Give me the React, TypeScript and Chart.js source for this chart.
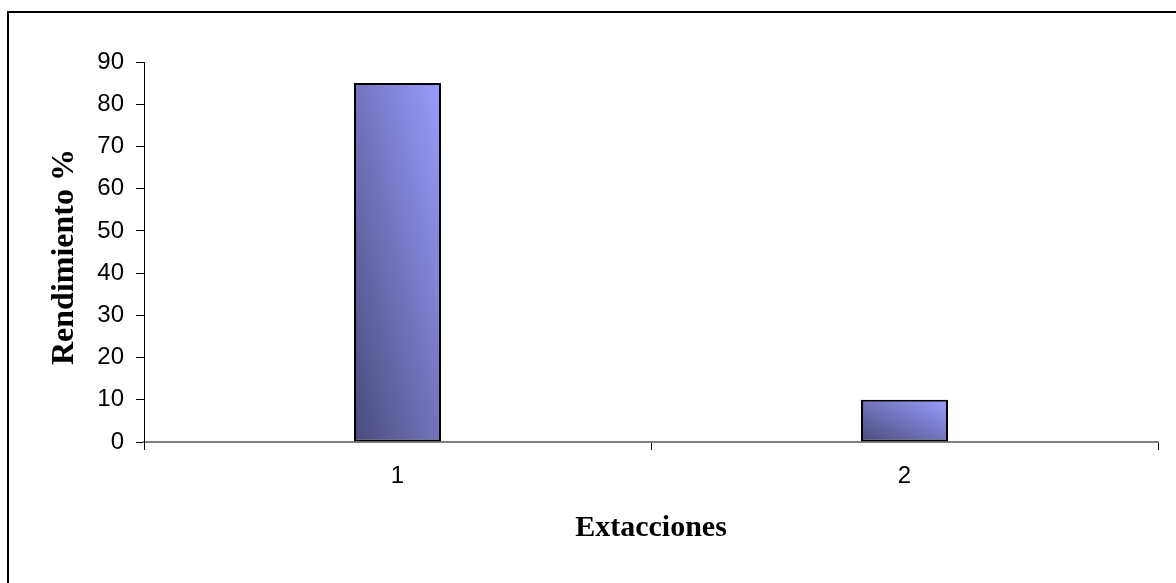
import React, { useEffect, useRef } from "react";
import { Chart, registerables } from "chart.js";

Chart.register(...registerables);

const categories: string[] = ["1", "2"];
const rendimiento: number[] = [85, 10];
const yTicksMin = 0;
const yTicksMax = 90;
const yTicksStep = 10;
const xTitle = "Extacciones";
const yTitle = "Rendimiento %";

const BAR_PCT = 0.1716;
const DARK = "#4a4a7c";
const LIGHT = "#9c9cff";

function barGradient(ctx: any) {
  const chart = ctx.chart;
  const xs = chart.scales?.x;
  const ys = chart.scales?.y;
  if (!xs || !ys || !chart.chartArea || ctx.raw === undefined) return LIGHT;
  const catW = xs.width / categories.length;
  const w = catW * BAR_PCT;
  const cx = xs.getPixelForValue(ctx.dataIndex);
  const left = cx - w / 2;
  const top = ys.getPixelForValue(ctx.raw);
  const bottom = ys.getPixelForValue(0);
  const h = Math.max(1, bottom - top);
  const k = (2 * w * h) / (w * w + h * h);
  const g = chart.ctx.createLinearGradient(left, bottom, left + h * k, bottom - w * k);
  g.addColorStop(0, DARK);
  g.addColorStop(1, LIGHT);
  return g;
}

const yTitlePlugin = {
  id: "yTitlePlugin",
  afterDraw(chart: any) {
    const c = chart.ctx;
    const area = chart.chartArea;
    c.save();
    c.translate(65, (area.top + area.bottom) / 2 + 5);
    c.rotate(-Math.PI / 2);
    c.font = "bold 32px 'Times New Roman', 'Liberation Serif'";
    c.fillStyle = "#000000";
    c.textAlign = "center";
    c.textBaseline = "middle";
    c.fillText(yTitle, 0, 0);
    c.restore();
  },
};

export default function App() {
  const ref = useRef<HTMLCanvasElement | null>(null);
  useEffect(() => {
    if (!ref.current) return;
    const chart = new Chart(ref.current, {
      type: "bar",
      data: {
        labels: categories,
        datasets: [
          {
            data: rendimiento,
            backgroundColor: barGradient as any,
            borderColor: "#000000",
            borderWidth: 2,
            borderSkipped: false,
            barPercentage: BAR_PCT,
            categoryPercentage: 1,
          },
        ],
      },
      options: {
        animation: false,
        responsive: false,
        maintainAspectRatio: false,
        layout: { padding: { top: 62, right: 18, left: 0, bottom: 0 } },
        plugins: { legend: { display: false }, tooltip: { enabled: false } },
        scales: {
          x: {
            type: "category",
            afterFit: (s: any) => {
              s.height = 141;
            },
            grid: {
              offset: true,
              drawOnChartArea: false,
              color: "#000000",
              tickLength: 8,
            },
            border: { color: "#808080", width: 2 },
            ticks: {
              color: "#000000",
              padding: 12,
              font: { family: "Arial, 'Liberation Sans'", size: 24 },
            },
            title: {
              display: true,
              text: xTitle,
              color: "#000000",
              padding: { top: 0, bottom: 37 },
              font: { family: "'Times New Roman', 'Liberation Serif'", size: 30, weight: "bold" },
            },
          },
          y: {
            min: yTicksMin,
            max: yTicksMax,
            afterFit: (s: any) => {
              s.width = 144;
            },
            grid: {
              drawOnChartArea: false,
              color: "#000000",
              tickLength: 8,
            },
            border: { color: "#000000", width: 1 },
            ticks: {
              stepSize: yTicksStep,
              color: "#000000",
              padding: 12,
              font: { family: "Arial, 'Liberation Sans'", size: 24 },
            },
            title: { display: false },
          },
        },
      },
      plugins: [yTitlePlugin],
    });
    return () => chart.destroy();
  }, []);

  return (
    <div
      style={{
        position: "fixed",
        left: 0,
        top: 0,
        width: 1176,
        height: 583,
        overflow: "hidden",
        background: "#ffffff",
      }}
    >
      <div
        style={{
          position: "absolute",
          left: 7,
          top: 11,
          width: 1200,
          height: 600,
          border: "2px solid #000000",
          boxSizing: "border-box",
        }}
      />
      <canvas
        ref={ref}
        width={1176}
        height={583}
        style={{ position: "absolute", left: 0, top: 0, width: 1176, height: 583 }}
      />
    </div>
  );
}
